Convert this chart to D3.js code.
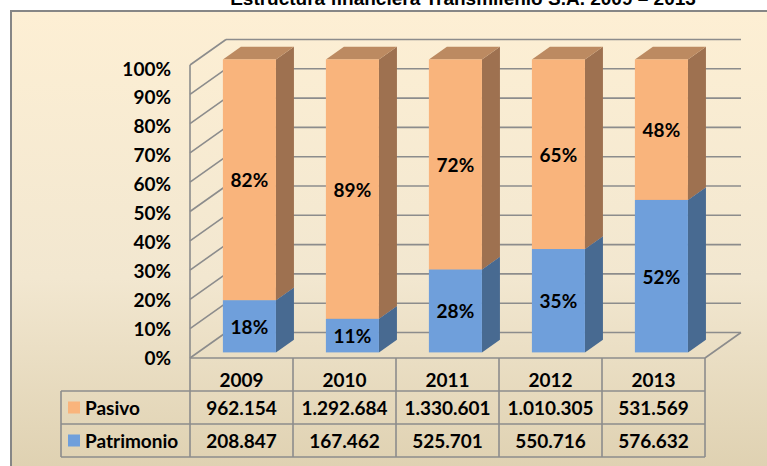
<!DOCTYPE html>
<html>
<head>
<meta charset="utf-8">
<script src="https://cdn.jsdelivr.net/npm/d3@7"></script>
<style>
    body { margin: 0; background: #ffffff; }
    svg { display: block; }
</style>
</head>
<body>
<svg id="chart"></svg>
<script>
// data
const years = ["2009", "2010", "2011", "2012", "2013"];
const pasivo = [962154, 1292684, 1330601, 1010305, 531569];
const patrimonio = [208847, 167462, 525701, 550716, 576632];
const seriesNames = ["Patrimonio", "Pasivo"]; // stacking order, bottom first
const yTicks = [0, 0.1, 0.2, 0.3, 0.4, 0.5, 0.6, 0.7, 0.8, 0.9, 1];

const width = 767, height = 466;
const depth = {x: 36, y: -25.5}; // offset of the back wall
const barFront = 0.22, barBack = 0.72; // depth fractions of the bars
const font = "Lato, sans-serif";
const fontSize = "19px";

const colors = {
    Pasivo: {front: "#F9B47C", side: "#9E7150", top: "#BC8A61"},
    Patrimonio: {front: "#6F9FDB", side: "#486A91", top: "#5B84B8"}
};

const svg = d3.select("#chart").attr("width", width).attr("height", height);

const defs = svg.append("defs");
const grad = defs.append("linearGradient").attr("id", "bg").attr("x1", 0).attr("y1", 0).attr("x2", 0).attr("y2", 1);
grad.append("stop").attr("offset", "0%").attr("stop-color", "#FDEFD4");
grad.append("stop").attr("offset", "55%").attr("stop-color", "#F2E7D0");
grad.append("stop").attr("offset", "100%").attr("stop-color", "#DCCEAD");

// chart area
svg.append("rect")
    .attr("x", 11).attr("y", 11)
    .attr("width", width + 20).attr("height", height + 20)
    .attr("fill", "url(#bg)")
    .attr("stroke", "#868686")
    .attr("stroke-width", 2);

svg.append("text")
    .attr("x", 463).attr("y", 5)
    .attr("text-anchor", "middle")
    .style("font-family", "'Liberation Sans', Arial, sans-serif")
    .style("font-weight", "bold")
    .style("font-size", "19px")
    .text("Estructura financiera Transmilenio S.A. 2009 – 2013");

const table = years.map((yr, i) => ({year: yr, Pasivo: pasivo[i], Patrimonio: patrimonio[i]}));
const stacked = d3.stack().keys(seriesNames).offset(d3.stackOffsetExpand)(table);

const x = d3.scaleBand().domain(years).range([190, 705]);
const y = d3.scaleLinear().domain([0, 1]).range([358, 65]);
const yLabel = d3.scaleLinear().domain([0, 1]).range([358, 69]);

const proj = (px, v, f) => [px + f * depth.x, y(v) + f * depth.y];

const gridColor = "#8C8C8C";
const walls = svg.append("g")
    .attr("fill", "none")
    .attr("stroke", gridColor)
    .attr("stroke-width", 1.6);

// back wall gridlines
walls.selectAll(".back")
    .data(yTicks)
    .join("line")
    .attr("x1", proj(x.range()[0], 0, 1)[0])
    .attr("x2", proj(x.range()[1], 0, 1)[0])
    .attr("y1", d => proj(0, d, 1)[1])
    .attr("y2", d => proj(0, d, 1)[1]);

// side wall gridlines
walls.selectAll(".side")
    .data(yTicks)
    .join("line")
    .attr("x1", x.range()[0])
    .attr("y1", d => y(d))
    .attr("x2", proj(x.range()[0], 0, 1)[0])
    .attr("y2", d => proj(0, d, 1)[1]);

walls.append("line")
    .attr("x1", x.range()[0]).attr("x2", x.range()[0])
    .attr("y1", y(0)).attr("y2", y(1));

// floor right edge
walls.append("line")
    .attr("x1", x.range()[1]).attr("y1", y(0))
    .attr("x2", proj(x.range()[1], 0, 1)[0]).attr("y2", proj(0, 0, 1)[1]);

// y axis labels
const yAxis = svg.append("g")
    .attr("transform", "translate(171,0)")
    .call(d3.axisLeft(yLabel).tickValues(yTicks).tickSize(0).tickPadding(0).tickFormat(d3.format(".0%")));
yAxis.select(".domain").remove();
yAxis.selectAll("text")
    .style("font-family", font)
    .style("font-weight", "bold")
    .style("font-size", fontSize)
    .attr("fill", "#000");

// bars
const barW = x.bandwidth() * 0.515;
const bars = svg.append("g");
const segs = [];
stacked.forEach(s => {
    s.forEach((d, i) => segs.push({key: s.key, year: years[i], y0: d[0], y1: d[1], i: i}));
});
segs.sort((a, b) => a.i - b.i || a.y0 - b.y0);

segs.forEach(s => {
    const left = x(s.year) + x.bandwidth() / 2 - barW / 2;
    const right = left + barW;
    const c = colors[s.key];
    const pt = (px, v, f) => proj(px, v, f).join(",");
    const g = bars.append("g");
    // side
    g.append("polygon")
        .attr("points", [pt(right, s.y0, barFront), pt(right, s.y0, barBack), pt(right, s.y1, barBack), pt(right, s.y1, barFront)].join(" "))
        .attr("fill", c.side);
    // top
    g.append("polygon")
        .attr("points", [pt(left, s.y1, barFront), pt(right, s.y1, barFront), pt(right, s.y1, barBack), pt(left, s.y1, barBack)].join(" "))
        .attr("fill", c.top);
    // front
    const p0 = proj(left, s.y1, barFront), p1 = proj(right, s.y0, barFront);
    g.append("rect")
        .attr("x", p0[0]).attr("y", p0[1])
        .attr("width", p1[0] - p0[0]).attr("height", p1[1] - p0[1])
        .attr("fill", c.front);
    g.append("text")
        .attr("x", (p0[0] + p1[0]) / 2)
        .attr("y", (p0[1] + p1[1]) / 2)
        .attr("text-anchor", "middle")
        .attr("dominant-baseline", "central")
        .style("font-family", font)
        .style("font-weight", "bold")
        .style("font-size", fontSize)
        .text(d3.format(".0%")(s.y1 - s.y0));
});

// data table
const locale = d3.formatLocale({decimal: ",", thousands: ".", grouping: [3], currency: ["$", ""]});
const fmt = locale.format(",d");
const rowH = 33;
const headTop = 358, headBottom = 391;
const labelLeft = 61;
const rows = ["Pasivo", "Patrimonio"];
const tableG = svg.append("g");
const tableLine = sel => sel.attr("stroke", gridColor).attr("stroke-width", 1.6);

tableLine(tableG.append("line").attr("x1", x.range()[0]).attr("x2", x.range()[1]).attr("y1", headTop).attr("y2", headTop));
[headBottom, headBottom + rowH, headBottom + 2 * rowH].forEach(yy => {
    tableLine(tableG.append("line").attr("x1", labelLeft).attr("x2", x.range()[1]).attr("y1", yy).attr("y2", yy));
});
tableLine(tableG.append("line").attr("x1", labelLeft).attr("x2", labelLeft).attr("y1", headBottom).attr("y2", headBottom + 2 * rowH));
years.concat([null]).forEach((yr, i) => {
    const xx = yr ? x(yr) : x.range()[1];
    tableLine(tableG.append("line").attr("x1", xx).attr("x2", xx).attr("y1", headTop).attr("y2", headBottom + 2 * rowH));
});

const cellText = (sx, sy, txt, anchor) => tableG.append("text")
    .attr("x", sx).attr("y", sy)
    .attr("text-anchor", anchor)
    .attr("dominant-baseline", "central")
    .style("font-family", font)
    .style("font-weight", "bold")
    .style("font-size", fontSize)
    .text(txt);

years.forEach(yr => cellText(x(yr) + x.bandwidth() / 2, 379, yr, "middle"));

rows.forEach((r, ri) => {
    const cy = headBottom + ri * rowH + rowH / 2;
    tableG.append("rect")
        .attr("x", 68).attr("y", cy - 6)
        .attr("width", 12).attr("height", 12)
        .attr("fill", colors[r].front);
    cellText(85, cy, r, "start");
    table.forEach(d => cellText(x(d.year) + x.bandwidth() / 2, cy, fmt(d[r]), "middle"));
});
</script>
</body>
</html>
